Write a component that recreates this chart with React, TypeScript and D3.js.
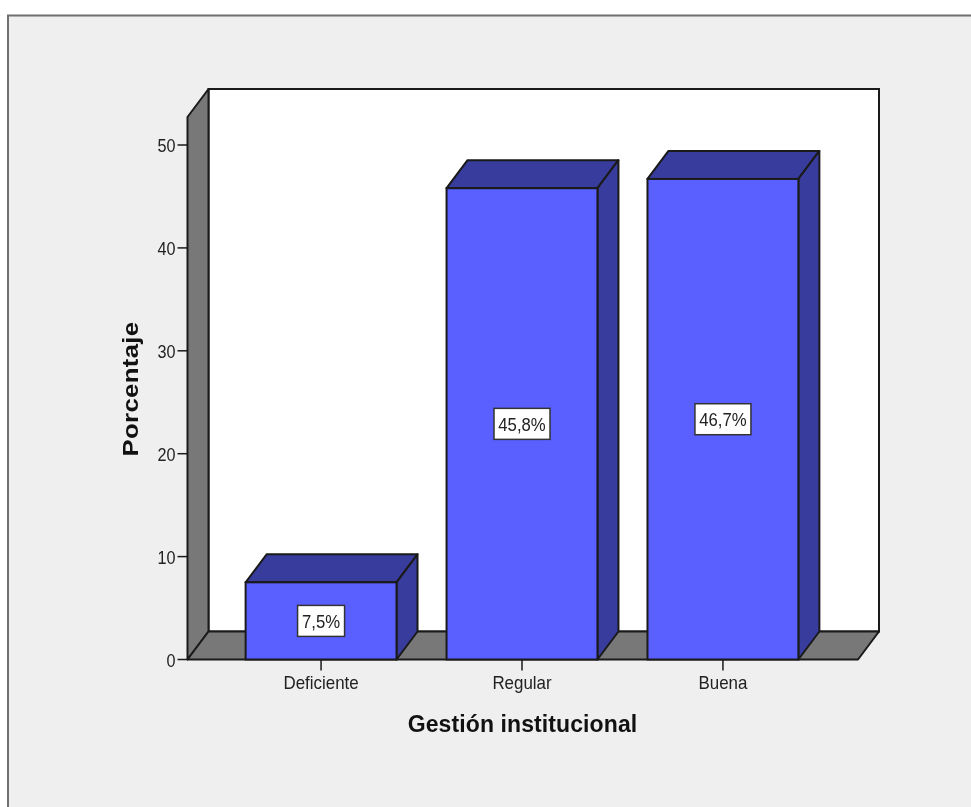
import React, { useEffect } from "react";
import * as d3 from "d3";

const categories = ["Deficiente", "Regular", "Buena"];
const values = [7.5, 45.8, 46.7];
const valueLabels = ["7,5%", "45,8%", "46,7%"];
const yTicks = [0, 10, 20, 30, 40, 50];
const yTitle = "Porcentaje";
const xTitle = "Gestión institucional";

const W = 971;
const H = 807;
const dx = 21;
const dy = -28;
const FONT = "Arial, 'Liberation Sans', sans-serif";
const INK = "#1a1a1a";

function SText({ x, y, sx, size, children }: { x: number; y: number; sx: number; size: number; children: React.ReactNode }) {
  return (
    <text transform={`translate(${x},${y}) scale(${sx},1)`} textAnchor="middle" fontSize={size} fill="#222">
      {children}
    </text>
  );
}

export default function App() {
  useEffect(() => {
    document.body.style.margin = "0";
  }, []);

  const y = d3.scaleLinear().domain([0, 50]).range([659.5, 145]);
  const x = d3.scaleBand<string>().domain(categories).range([220.5, 823.5]).paddingInner(0.249).paddingOuter(0.125);
  const left = 187.5;
  const right = 858;
  const floorY = y(0);
  const topY = 117;
  const poly = (pts: [number, number][]) => pts.map((p) => p.join(",")).join(" ");

  return (
    <svg
      width={W}
      height={H}
      style={{ display: "block", position: "absolute", left: 0, top: 0, filter: "blur(0.45px)" }}
      fontFamily={FONT}
    >
      <rect width={W} height={H} fill="#ffffff" />
      <rect x={8} y={15.5} width={W + 20} height={H + 20} fill="#efefef" stroke="#707070" strokeWidth={2} />
      {/* back wall */}
      <rect x={left + dx} y={topY + dy} width={right - left} height={floorY - topY} fill="#ffffff" stroke={INK} strokeWidth={2} />
      {/* left wall */}
      <polygon
        points={poly([[left, topY], [left + dx, topY + dy], [left + dx, floorY + dy], [left, floorY]])}
        fill="#787878" stroke={INK} strokeWidth={2} strokeLinejoin="round"
      />
      {/* floor */}
      <polygon
        points={poly([[left, floorY], [left + dx, floorY + dy], [right + dx, floorY + dy], [right, floorY]])}
        fill="#787878" stroke={INK} strokeWidth={2} strokeLinejoin="round"
      />
      {/* y axis */}
      {yTicks.map((t) => {
        const s = String(t);
        const half = (s.length * 18.5 * 0.556 * 0.875) / 2;
        return (
          <g key={t}>
            <line x1={left - 10} x2={left} y1={y(t)} y2={y(t)} stroke={INK} strokeWidth={1.5} />
            <SText x={left - 12 - half} y={y(t) + 7} sx={0.875} size={18.5}>{s}</SText>
          </g>
        );
      })}
      {/* bars */}
      {categories.map((c, i) => {
        const x0 = x(c)!;
        const x1 = x0 + x.bandwidth();
        const yt = y(values[i]);
        const cx = (x0 + x1) / 2;
        const cy = (yt + floorY) / 2;
        const w = valueLabels[i].length > 4 ? 56 : 47;
        return (
          <g key={c}>
            <polygon
              points={poly([[x0, yt], [x0 + dx, yt + dy], [x1 + dx, yt + dy], [x1, yt]])}
              fill="#383c9c" stroke={INK} strokeWidth={2} strokeLinejoin="round"
            />
            <polygon
              points={poly([[x1, yt], [x1 + dx, yt + dy], [x1 + dx, floorY + dy], [x1, floorY]])}
              fill="#383c9c" stroke={INK} strokeWidth={2} strokeLinejoin="round"
            />
            <rect x={x0} y={yt} width={x1 - x0} height={floorY - yt} fill="#5a60ff" stroke={INK} strokeWidth={2} />
            <line x1={cx} x2={cx} y1={floorY} y2={floorY + 11} stroke={INK} strokeWidth={1.5} />
            <SText x={cx} y={689} sx={0.94} size={18}>{c}</SText>
            <rect x={cx - w / 2} y={cy - 15.5} width={w} height={31} fill="#ffffff" stroke="#333" strokeWidth={1.5} />
            <SText x={cx} y={cy + 7} sx={0.88} size={19}>{valueLabels[i]}</SText>
          </g>
        );
      })}
      <text
        transform="translate(138,389) rotate(-90) scale(1.12,1)"
        textAnchor="middle" fontSize={23} fontWeight="bold" letterSpacing={0.3} fill="#111"
      >{yTitle}</text>
      <text x={522.5} y={732} textAnchor="middle" fontSize={23} fontWeight="bold" letterSpacing={0.1} fill="#111">{xTitle}</text>
    </svg>
  );
}
